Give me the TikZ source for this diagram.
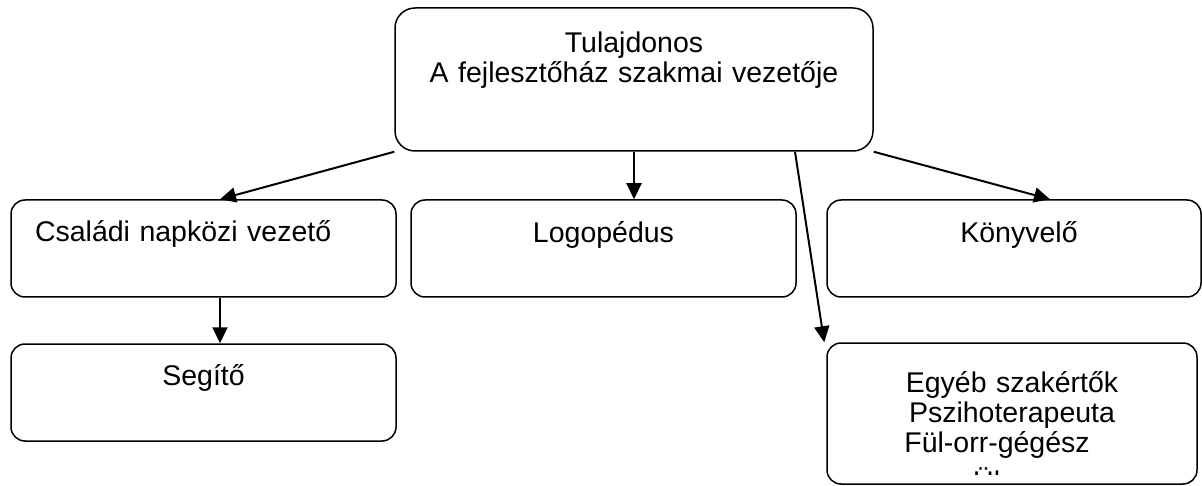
\documentclass[tikz,border=0pt]{standalone}
\usepackage{fontspec}
\setmainfont{Liberation Sans}
\usepackage{tikz}
\usetikzlibrary{arrows.meta}

\begin{document}
\begin{tikzpicture}[x=1pt, y=-1pt, box/.style={draw, line width=1.5pt, rounded corners=14pt, inner sep=0pt, align=center, font=\fontsize{28.5}{30}\selectfont}, link/.style={line width=2pt, -{Triangle[length=16pt, width=15pt]}}]
	\useasboundingbox (0,0) rectangle (1202,486);
	\node ({owner}) [box, rounded corners=20pt, text width=478pt, text height=45pt, text depth=98pt] at (634, 79.5) {Tulajdonos\\A fejlesztőház szakmai vezetője};
	\node ({leader}) [box, align=left, inner xsep=24pt, text width=337pt, text height=42pt, text depth=55pt] at (203.5, 248.5) {Családi napközi vezető};
	\node ({logo}) [box, text width=385pt, text height=43pt, text depth=54pt] at (603.5, 248.5) {Logopédus};
	\node ({books}) [box, text width=374pt, text height=43pt, text depth=54pt] at (1014, 248.5) {\hbox to 10pt{}Könyvelő};
	\node ({helper}) [box, text width=385pt, text height=41pt, text depth=56pt] at (203.5, 392.5) {Segítő};
	\node ({experts}) [box, text width=370pt, text height=49pt, text depth=92pt] at (1012, 413.5) {Egyéb szakértők\\Pszihoterapeuta\\Fül-orr-gégész\hbox to 30pt{}};

	%only the top of the last line shows
	\begin{scope}
		\clip (830, 440) rectangle (1190, 474.5);
		\node ({more}) [anchor=base west, inner sep=0pt, font=\fontsize{28.5}{30}\selectfont] at (973, 491) {Ül};
	\end{scope}

	\draw [link] (owner.south west) -- ([xshift=16.5pt]leader.north);
	\draw [link] (owner.south) -- (owner.south |- logo.north);
	\draw [link] (owner.south east) -- ([xshift=36pt]books.north);
	\draw [link] ([xshift=161pt]owner.south) -- ([xshift=-2pt]experts.north west);
	\draw [link] ([xshift=16.5pt]leader.south) -- ([xshift=16.5pt]helper.north);
\end{tikzpicture}
\end{document}
